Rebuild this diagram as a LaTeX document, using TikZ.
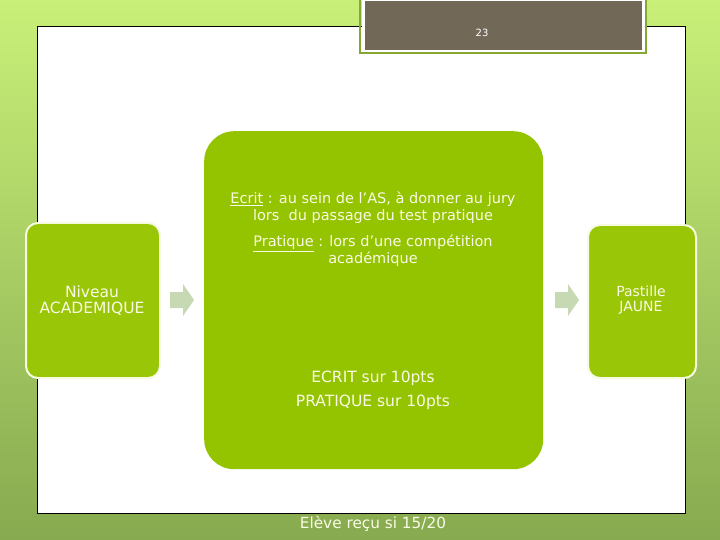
\documentclass[tikz,border=0pt]{standalone}
\usepackage{fontspec}
\setmainfont{DejaVu Sans}
\definecolor{bgtop}{RGB}{200,240,120}
\definecolor{bgbot}{RGB}{135,170,80}
\definecolor{boxgreen}{RGB}{148,196,0}
\definecolor{sidegreen}{RGB}{154,198,8}
\definecolor{darkbox}{RGB}{113,104,88}
\definecolor{frame}{RGB}{134,168,51}
\definecolor{arrowc}{RGB}{198,217,178}
\definecolor{txt}{RGB}{250,250,228}
\tikzset{
  mainbox/.style={fill=boxgreen, rounded corners=30pt, draw=none},
  sidebox/.style={fill=sidegreen, rounded corners=12pt, draw={rgb,255:red,245;green,250;blue,225}, line width=2pt},
  flowarrow/.style={fill=arrowc, draw=none},
  lbl/.style={text=txt, align=center, inner sep=0pt}
}
\begin{document}
\begin{tikzpicture}[x=1pt,y=-1pt]
\useasboundingbox (0,0) rectangle (720,540);
\shade[top color=bgtop, bottom color=bgbot] (0,0) rectangle (720,540);
\node[draw=black, line width=1pt, fill=white, minimum width=648pt, minimum height=487pt, inner sep=0pt, anchor=north west] (page) at (37,26) {};
% top dark box
\node[fill=darkbox, draw=white, line width=3pt, minimum width=280pt, minimum height=52pt, anchor=north, inner sep=0pt] (top) at (503,-2) {};
\draw[frame, line width=2pt] (360,-2) -- (360,53) -- (646,53) -- (646,-2);
\node[text=white, font=\fontsize{10}{12}\selectfont] (num) at (482,33) {23};
% centre box
\node[mainbox, minimum width=339pt, minimum height=338pt, inner sep=0pt, anchor=north west] (centre) at (204,131) {};
\node[lbl, font=\fontsize{14.5}{17}\selectfont] (t1) at (373,208) {\underline{Ecrit} : au sein de l’AS, à donner au jury\\lors\ \ du passage du test pratique};
\node[lbl, font=\fontsize{14.5}{17}\selectfont] (t2) at (373,250.5) {\underline{Pratique} : lors d’une compétition\\académique};
\node[lbl, font=\fontsize{15.5}{24}\selectfont] (t3) at (373,390) {ECRIT sur 10pts\\PRATIQUE sur 10pts};
% side boxes
\node[sidebox, minimum width=134pt, minimum height=155pt, inner sep=0pt, anchor=north west] (left) at (25,222) {};
\node[lbl, font=\fontsize{15.5}{16}\selectfont] (lt) at (92,300.5) {Niveau\\ACADEMIQUE};
\node[sidebox, minimum width=108pt, minimum height=153pt, inner sep=0pt, anchor=north west] (right) at (587,224) {};
\node[lbl, font=\fontsize{14}{15}\selectfont] (rt) at (641,300) {Pastille\\JAUNE};
% arrows
\fill[flowarrow] (170,292) -- (183,292) -- (183,284) -- (194,300) -- (183,316) -- (183,308) -- (170,308) -- cycle;
\fill[flowarrow] (555,292) -- (568,292) -- (568,284) -- (579,300) -- (568,316) -- (568,308) -- (555,308) -- cycle;
% bottom text
\node[text=txt, font=\fontsize{15.3}{16}\selectfont] (bottom) at (373,524) {Elève reçu si 15/20};
\end{tikzpicture}
\end{document}
